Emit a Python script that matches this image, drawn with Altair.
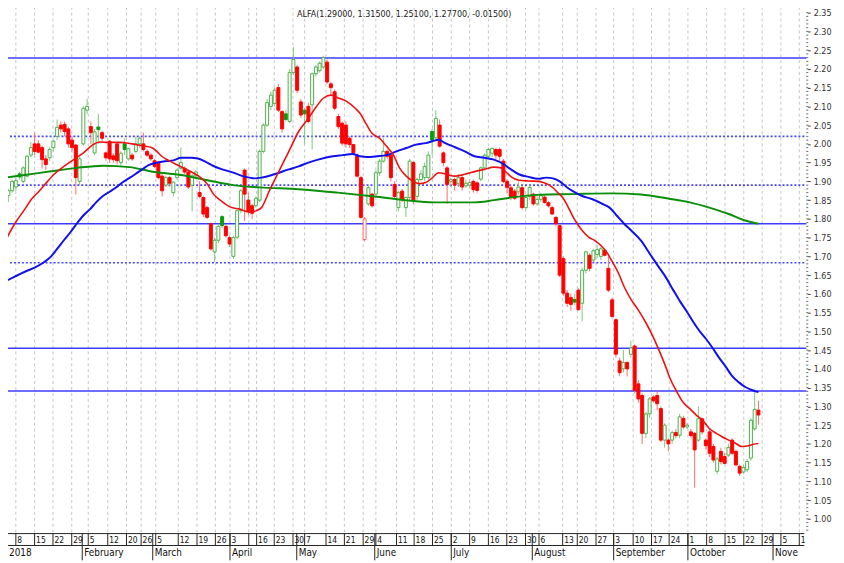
import altair as alt
import pandas as pd
import numpy as np

# ---------------- data ----------------
opens = [1.862,1.875,1.885,1.92,1.90,1.914,1.97,2.0,2.0,1.99,1.96,1.963,1.99,2.02,2.05,2.052,2.04,2.01,1.997,1.90,
         2.0,2.09,2.046,1.976,2.045,2.03,1.976,2.007,1.968,2.0,1.95,2.0,1.96,1.97,1.98,2.0,2.0,1.98,1.97,1.955,
         1.95,1.914,1.89,1.91,1.87,1.91,1.935,1.935,1.925,1.89,1.915,1.87,1.857,1.83,1.787,1.712,1.743,1.806,1.78,1.75,
         1.70,1.751,1.822,1.93,1.85,1.835,1.835,1.85,1.98,2.05,2.10,2.108,2.15,2.086,2.08,2.06,2.19,2.205,2.112,2.09,
         2.10,2.104,2.187,2.195,2.205,2.218,2.16,2.139,2.073,2.055,2.05,2.015,1.998,1.97,1.91,1.745,1.84,1.866,1.866,1.923,
         1.954,1.98,1.97,1.892,1.83,1.874,1.83,1.857,1.95,1.86,1.905,1.91,1.91,2.033,2.016,2.05,1.976,1.936,1.90,1.905,
         1.895,1.91,1.888,1.89,1.9,1.896,1.906,1.936,1.967,1.975,1.985,1.985,1.954,1.90,1.883,1.874,1.872,1.883,1.83,1.86,
         1.866,1.84,1.852,1.858,1.843,1.83,1.804,1.782,1.694,1.602,1.59,1.585,1.61,1.575,1.663,1.703,1.69,1.705,1.70,1.716,
         1.668,1.584,1.531,1.421,1.40,1.417,1.439,1.461,1.36,1.329,1.228,1.28,1.325,1.329,1.294,1.21,1.21,1.21,1.23,1.223,
         1.268,1.245,1.232,1.228,1.21,1.267,1.21,1.232,1.193,1.127,1.18,1.166,1.17,1.21,1.18,1.14,1.125,1.131,1.162,1.24,
         1.29]
highs = [1.88,1.905,1.91,1.925,1.94,1.97,2.005,2.03,2.01,1.995,1.97,1.99,2.01,2.065,2.06,2.06,2.045,2.02,2.0,1.965,
         2.10,2.12,2.06,2.04,2.08,2.035,1.98,2.01,1.975,2.005,1.98,2.015,1.99,1.975,2.02,2.02,2.03,1.985,1.975,1.96,
         1.955,1.92,1.915,1.915,1.9,1.935,1.99,1.94,1.93,1.92,1.93,1.9,1.86,1.835,1.79,1.75,1.785,1.81,1.785,1.755,
         1.755,1.825,1.88,1.935,1.87,1.84,1.86,1.985,2.055,2.12,2.14,2.15,2.16,2.09,2.09,2.20,2.258,2.21,2.12,2.095,
         2.11,2.19,2.21,2.22,2.235,2.225,2.165,2.145,2.08,2.06,2.06,2.02,2.0,1.975,1.915,1.805,1.89,1.87,1.93,1.96,
         2.015,1.985,1.975,1.9,1.875,1.88,1.86,1.96,1.955,1.91,1.93,1.95,1.98,2.04,2.09,2.065,1.98,1.94,1.91,1.91,
         1.92,1.915,1.905,1.9,1.905,1.9,1.94,1.975,1.99,1.99,1.99,1.99,1.96,1.905,1.89,1.88,1.9,1.89,1.865,1.89,
         1.87,1.86,1.87,1.862,1.848,1.835,1.808,1.785,1.70,1.61,1.6,1.60,1.615,1.67,1.715,1.708,1.72,1.73,1.725,1.72,
         1.70,1.59,1.535,1.43,1.45,1.42,1.475,1.465,1.37,1.335,1.285,1.325,1.33,1.34,1.30,1.255,1.215,1.235,1.24,1.28,
         1.275,1.255,1.24,1.232,1.30,1.27,1.215,1.24,1.20,1.165,1.19,1.175,1.20,1.215,1.185,1.145,1.145,1.16,1.268,1.347,
         1.315]
lows = [1.845,1.87,1.875,1.905,1.895,1.91,1.965,1.97,1.975,1.935,1.93,1.955,1.98,2.01,2.03,2.02,1.99,1.98,1.865,1.89,
        1.995,2.08,2.0,1.97,2.0,2.005,1.955,1.95,1.95,1.945,1.94,1.97,1.955,1.955,1.975,1.99,1.98,1.965,1.955,1.935,
        1.905,1.86,1.885,1.885,1.86,1.905,1.93,1.92,1.88,1.82,1.905,1.855,1.805,1.8,1.715,1.685,1.735,1.775,1.75,1.725,
        1.694,1.745,1.815,1.795,1.81,1.8,1.83,1.845,1.975,2.045,2.09,2.1,2.085,2.03,2.06,2.055,2.185,2.135,2.07,2.0,
        2.055,1.985,2.18,2.19,2.2,2.16,2.13,2.09,2.04,1.995,1.99,1.99,1.97,1.91,1.80,1.74,1.835,1.83,1.86,1.915,
        1.95,1.96,1.90,1.855,1.82,1.845,1.805,1.85,1.84,1.85,1.9,1.9,1.905,1.97,2.01,1.99,1.94,1.84,1.885,1.875,
        1.885,1.875,1.882,1.88,1.87,1.87,1.9,1.93,1.96,1.965,1.96,1.955,1.895,1.87,1.85,1.85,1.865,1.825,1.825,1.85,
        1.835,1.835,1.845,1.84,1.83,1.81,1.78,1.645,1.595,1.565,1.555,1.57,1.555,1.527,1.655,1.66,1.685,1.695,1.69,1.70,
        1.605,1.535,1.43,1.38,1.39,1.38,1.43,1.335,1.31,1.20,1.215,1.27,1.31,1.29,1.205,1.19,1.18,1.20,1.215,1.215,
        1.24,1.24,1.215,1.083,1.205,1.225,1.185,1.165,1.15,1.12,1.145,1.145,1.165,1.17,1.14,1.115,1.12,1.125,1.155,1.235,
        1.251]
closes = [1.875,1.90,1.902,1.912,1.936,1.967,1.99,1.98,1.978,1.958,1.945,1.985,2.007,2.044,2.04,2.033,2.0,1.99,1.91,1.96,
          2.095,2.10,2.03,2.032,2.038,2.015,1.963,1.96,1.958,1.955,1.975,1.985,1.987,1.96,2.0,2.015,1.985,1.97,1.96,1.94,
          1.91,1.875,1.91,1.895,1.898,1.93,1.95,1.925,1.885,1.915,1.925,1.86,1.813,1.804,1.72,1.743,1.78,1.782,1.755,1.733,
          1.75,1.822,1.875,1.866,1.82,1.815,1.855,1.98,2.05,2.11,2.13,2.143,2.09,2.04,2.065,2.19,2.225,2.143,2.077,2.08,
          2.06,2.187,2.205,2.215,2.23,2.165,2.15,2.095,2.046,2.002,2.0,1.998,1.976,1.914,1.804,1.80,1.883,1.835,1.923,1.954,
          1.98,1.967,1.91,1.86,1.87,1.853,1.857,1.954,1.848,1.905,1.92,1.94,1.97,2.01,2.068,1.994,1.95,1.892,1.905,1.89,
          1.91,1.885,1.895,1.897,1.878,1.876,1.936,1.97,1.985,1.988,1.97,1.967,1.90,1.884,1.857,1.855,1.885,1.83,1.857,1.884,
          1.84,1.852,1.862,1.844,1.835,1.813,1.787,1.65,1.602,1.575,1.572,1.578,1.558,1.663,1.712,1.668,1.715,1.718,1.72,1.703,
          1.61,1.54,1.439,1.39,1.417,1.40,1.456,1.342,1.32,1.228,1.28,1.32,1.315,1.307,1.21,1.25,1.20,1.23,1.222,1.272,
          1.245,1.25,1.222,1.184,1.267,1.232,1.195,1.175,1.157,1.16,1.153,1.148,1.19,1.175,1.144,1.122,1.137,1.153,1.263,1.292,
          1.277]

# moving averages (candle index, value)
red_ma_i = [-0.9,1.7,4.4,6.2,8.3,9.6,12.2,14.8,17.4,20.0,22.6,24.4,26.5,29.7,33.0,35.7,38.3,39.6,40.9,42.7,44.8,46.9,49.2,
            51.3,53.1,54.7,56.5,59.1,61.7,64.3,66.2,67.5,69.6,72.2,74.8,77.4,80.0,82.1,83.9,86.0,87.8,90.4,92.5,93.8,95.6,
            96.9,99.0,100.9,102.7,104.3,106.1,107.9,109.5,111.3,113.1,114.7,116.5,119.1,121.7,124.3,126.9,129.5,131.4,132.9,
            134.0,136.1,138.7,141.3,142.6,143.9,145.2,146.5,147.8,149.1,150.4,151.7,153.0,154.8,156.4,158.2,159.5,160.8,
            162.7,164.2,166.1,167.9,170.0,171.8,173.4,175.2,176.5,178.3,179.9,181.7,183.5,185.1,186.9,188.8,190.3,192.1,
            194.0,195.5,197.4,198.7,200.0]
red_ma_v = [1.74,1.787,1.826,1.853,1.875,1.89,1.919,1.94,1.958,1.976,1.998,2.005,2.004,2.004,2.0,1.995,1.99,1.98,1.967,1.956,
            1.945,1.935,1.923,1.91,1.892,1.866,1.85,1.832,1.826,1.818,1.822,1.83,1.875,1.928,1.98,2.033,2.068,2.099,2.121,
            2.13,2.123,2.112,2.095,2.081,2.05,2.029,2.015,1.993,1.97,1.936,1.914,1.9,1.894,1.897,1.91,1.923,1.92,1.914,1.919,
            1.926,1.932,1.938,1.936,1.923,1.913,1.903,1.901,1.9,1.897,1.892,1.883,1.87,1.857,1.835,1.809,1.787,1.769,1.751,
            1.742,1.727,1.712,1.69,1.655,1.619,1.584,1.558,1.523,1.488,1.452,1.408,1.373,1.338,1.311,1.294,1.276,1.263,
            1.241,1.228,1.219,1.21,1.201,1.193,1.195,1.199,1.201]
blue_ma_i = [-0.9,1.7,4.4,7.0,9.6,11.4,13.0,14.8,16.6,18.2,20.0,21.8,23.4,25.2,27.1,28.6,30.4,33.8,35.7,37.5,39.6,42.2,44.0,
             46.1,48.7,50.5,52.6,54.7,57.0,59.1,60.9,62.5,64.3,65.6,67.5,70.9,74.8,77.4,80.0,82.6,86.5,89.1,91.7,93.8,95.6,
             98.3,100.9,103.5,106.1,108.7,111.3,113.1,114.7,116.5,119.1,121.7,124.3,126.9,129.5,132.2,134.0,136.1,138.7,
             141.3,143.4,145.2,147.0,149.1,151.2,153.0,155.6,158.2,160.3,162.2,164.2,166.1,168.7,171.3,173.4,175.2,177.3,
             179.1,180.9,182.5,184.3,186.1,187.7,189.5,191.4,192.9,194.8,196.6,198.7,200.0]
blue_ma_v = [1.633,1.646,1.659,1.67,1.685,1.70,1.72,1.743,1.765,1.787,1.809,1.826,1.844,1.861,1.873,1.883,1.897,1.919,1.932,
             1.944,1.95,1.954,1.956,1.963,1.963,1.961,1.952,1.941,1.932,1.926,1.92,1.914,1.91,1.908,1.91,1.919,1.932,1.94,
             1.95,1.958,1.967,1.97,1.973,1.967,1.965,1.967,1.97,1.98,1.989,1.998,2.002,2.007,2.011,2.002,1.991,1.98,1.967,
             1.963,1.958,1.945,1.932,1.919,1.912,1.907,1.91,1.908,1.9,1.883,1.87,1.861,1.853,1.841,1.83,1.809,1.787,1.769,
             1.742,1.703,1.672,1.646,1.61,1.58,1.553,1.527,1.501,1.479,1.457,1.43,1.404,1.382,1.364,1.351,1.342,1.338]
green_ma_i = [-0.9,4.4,11.4,18.2,25.2,32.3,39.0,46.1,53.1,59.9,66.9,77.4,87.8,98.3,108.7,113.9,124.3,129.5,134.8,141.3,
              150.4,160.8,168.7,176.5,181.7,186.9,192.1,196.0,200.0]
green_ma_v = [1.91,1.917,1.927,1.936,1.942,1.938,1.925,1.917,1.903,1.89,1.884,1.879,1.87,1.859,1.847,1.844,1.844,1.85,
              1.858,1.864,1.866,1.868,1.865,1.853,1.844,1.83,1.813,1.797,1.787]

solid_levels = [2.229, 1.787, 1.455, 1.341]
dotted_levels = [2.020, 1.890, 1.683]

week_pos = [2.0,7.0,11.9,16.9,21.3,26.5,31.5,35.4,39.3,45.3,50.3,55.2,59.1,64.1,66.2,70.9,75.9,79.0,84.7,89.6,
            94.6,98.0,103.5,108.2,113.1,118.1,123.0,128.0,132.9,137.9,141.5,147.8,151.7,156.7,161.4,166.6,171.5,
            176.2,181.2,186.2,191.1,196.1,201.0,206.0]
week_lbl = ["8","15","22","29","5","12","20","26","5","12","19","26","3","","16","23","30","7","14","21",
            "29","4","11","18","25","2","9","16","23","30","6","13","20","27","3","10","17","24","1","8",
            "15","22","29","5"]
edge_pos = [210.9]
edge_lbl = ["12"]
month_pos = [19.7, 38.5, 59.1, 76.9, 97.7, 118.1, 139.7, 161.4, 181.2]
month_lbl = ["February","March","April","May","June","July","August","September","October"]
nov_pos = [203.9]
nov_lbl = ["November"]
axis_values = [round(1.0 + 0.05 * k, 2) for k in range(28)]
minor_values = [round(0.97 + 0.01 * k, 2) for k in range(139)]

# ---------------- derived tables ----------------
n = len(closes)
prev = [opens[0]] + closes[:-1]
rows = []
for i in range(n):
    up = closes[i] >= prev[i]
    hollow = closes[i] > opens[i]
    if up:
        fill = "#ffffff" if hollow else "#0a9a0a"
        stroke = "#4cb04c" if hollow else "#0a9a0a"
        wick = "#7cc87c"
    else:
        fill = "#ffffff" if hollow else "#ff0000"
        stroke = "#ff6a6a" if hollow else "#ff0000"
        wick = "#ff6a6a"
    rows.append(dict(i=i, open=opens[i], high=highs[i], low=lows[i], close=closes[i],
                     fill=fill, stroke=stroke, wick=wick))
cdf = pd.DataFrame(rows)

last = n - 1
title_txt = "ALFA({:.5f}, {:.5f}, {:.5f}, {:.5f}, {:.5f})".format(
    opens[last], highs[last], lows[last], closes[last], closes[last] - closes[last - 1])

W, H = 807, 528
FONT = "Liberation Sans Narrow, DejaVu Sans Condensed, Arial Narrow, sans-serif"
ZW = "\u200b"

xscale = alt.Scale(domain=[1.226, 211.71], nice=False, zero=False)
yscale = alt.Scale(domain=[0.9607, 2.3553], nice=False, zero=False)
yaxis = alt.Axis(orient="right", values=axis_values, format=".2f", domain=False, grid=False,
                 ticks=True, tickSize=3, tickColor="#444444", labelFontSize=9, labelColor="#333333",
                 labelFont=FONT, labelPadding=3, title=None, labelAlign="left", labelBaseline="middle",
                 labelOverlap=False, labelFlush=False)


def X(f):
    return alt.X(f, type="quantitative", scale=xscale, axis=None)


def Y(f):
    return alt.Y(f, type="quantitative", scale=yscale, axis=yaxis)


wk = pd.DataFrame({"p": week_pos, "t": week_lbl})
edge = pd.DataFrame({"p": edge_pos, "t": edge_lbl})
mo = pd.DataFrame({"p": month_pos, "t": month_lbl})
nov = pd.DataFrame({"p": nov_pos, "t": nov_lbl})
grid_df = pd.concat([wk, edge])

grid = alt.Chart(grid_df).mark_rule(color="#c4c4c4", strokeDash=[3, 3], strokeWidth=1).encode(
    x=X("p"), y=alt.value(-10), y2=alt.value(H))

solid = alt.Chart(pd.DataFrame({"v": solid_levels})).mark_rule(color="#3c3cff", strokeWidth=1.6).encode(
    y=Y("v"), x=alt.value(-10), x2=alt.value(806))
dotted = alt.Chart(pd.DataFrame({"v": dotted_levels})).mark_rule(
    color="#4646ff", strokeWidth=1.6, strokeDash=[2, 2]).encode(
    y=Y("v"), x=alt.value(-10), x2=alt.value(806))

minor = alt.Chart(pd.DataFrame({"v": minor_values})).mark_rule(color="#666666", strokeWidth=1).encode(
    y=Y("v"), x=alt.value(806), x2=alt.value(808))

wicks = alt.Chart(cdf).mark_rule(strokeWidth=1).encode(
    x=X("i"), y=Y("low"), y2="high", color=alt.Color("wick:N", scale=None))
bodies = alt.Chart(cdf).mark_bar(size=3, strokeWidth=1).encode(
    x=X("i"), y=Y("open"), y2="close",
    fill=alt.Fill("fill:N", scale=None), stroke=alt.Stroke("stroke:N", scale=None))

green_line = alt.Chart(pd.DataFrame({"i": green_ma_i, "v": green_ma_v})).mark_line(
    color="#0a8f0a", strokeWidth=2, interpolate="monotone").encode(x=X("i"), y=Y("v"))
blue_line = alt.Chart(pd.DataFrame({"i": blue_ma_i, "v": blue_ma_v})).mark_line(
    color="#1010ee", strokeWidth=2, interpolate="monotone").encode(x=X("i"), y=Y("v"))
red_line = alt.Chart(pd.DataFrame({"i": red_ma_i, "v": red_ma_v})).mark_line(
    color="#ee1111", strokeWidth=1.6, interpolate="monotone").encode(x=X("i"), y=Y("v"))

# bottom date band
band_lines = alt.Chart(pd.DataFrame({"r": ["top", "mid"], "y": [H, H + 12]})).mark_rule(
    color="#222222", strokeWidth=1).encode(y=alt.Y("y:Q", scale=None, axis=None),
                                           x=alt.value(-10), x2=alt.value(804))
week_sep = alt.Chart(grid_df).mark_rule(color="#222222", strokeWidth=1).encode(
    x=X("p"), y=alt.value(H), y2=alt.value(H + 12))
month_sep = alt.Chart(pd.concat([mo, nov])).mark_rule(color="#222222", strokeWidth=1).encode(
    x=X("p"), y=alt.value(H), y2=alt.value(H + 27))
week_txt = alt.Chart(wk).mark_text(align="left", baseline="middle", dx=1.5, fontSize=8.5,
                                   font=FONT, color="#111111").encode(
    x=X("p"), y=alt.value(H + 6.5), text="t:N")
edge_txt = alt.Chart(edge).mark_text(align="left", baseline="middle", dx=1.5, fontSize=8.5, font=FONT,
                                     color="#111111", limit=6, ellipsis=ZW).encode(
    x=X("p"), y=alt.value(H + 6.5), text="t:N")
month_txt = alt.Chart(mo).mark_text(align="left", baseline="middle", dx=2, fontSize=10,
                                    font=FONT, color="#111111").encode(
    x=X("p"), y=alt.value(H + 20), text="t:N")
nov_txt = alt.Chart(nov).mark_text(align="left", baseline="middle", dx=2, fontSize=10, font=FONT,
                                   color="#111111", limit=26, ellipsis=ZW).encode(
    x=X("p"), y=alt.value(H + 20), text="t:N")
year_txt = alt.Chart(pd.DataFrame({"t": ["2018"]})).mark_text(
    align="left", baseline="middle", fontSize=10, font=FONT, color="#111111").encode(
    x=alt.value(1), y=alt.value(H + 20), text="t:N")

title = alt.Chart(pd.DataFrame({"t": [title_txt]})).mark_text(
    align="center", baseline="middle", fontSize=9, font=FONT, color="#222222").encode(
    x=alt.value(400), y=alt.value(3), text="t:N")

chart = alt.layer(
    grid, solid, dotted, wicks, bodies, green_line, blue_line, red_line, minor,
    band_lines, week_sep, month_sep, week_txt, edge_txt, month_txt, nov_txt, year_txt, title
).properties(
    width=W, height=H,
    autosize=alt.AutoSizeParams(type="none"),
    padding={"left": 0, "top": 0, "right": 29, "bottom": 27},
    background="white",
).configure_view(stroke=None)

chart.save("out.html", embed_options={"renderer": "svg", "actions": False})
